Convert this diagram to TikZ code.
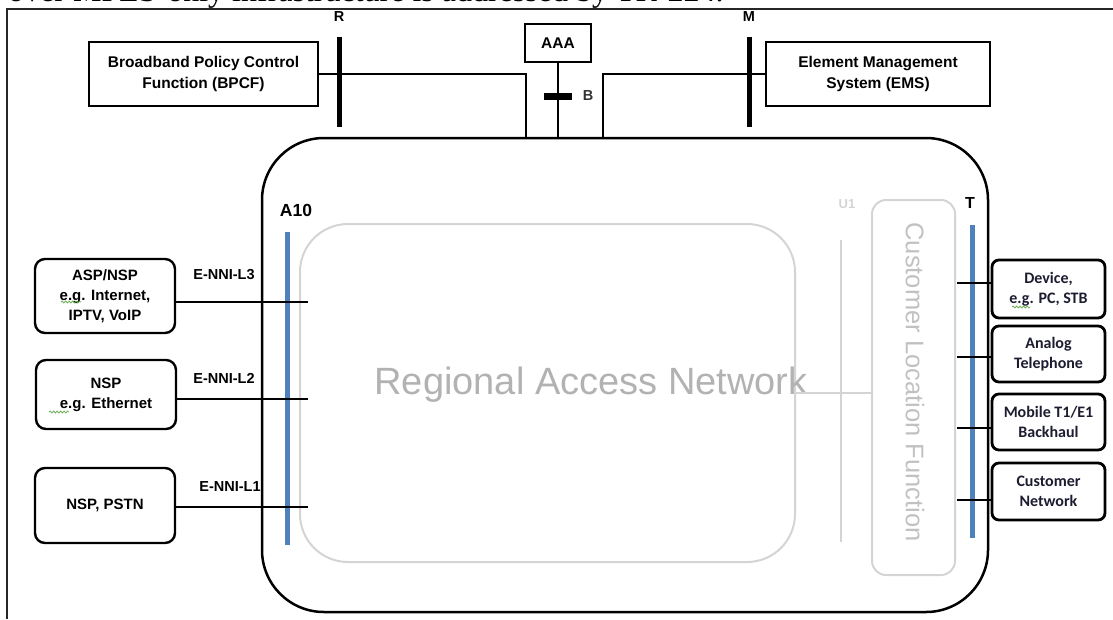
\documentclass[tikz,border=0pt]{standalone}
\usepackage{fontspec}
\setmainfont{Liberation Sans}
\newfontfamily\calibri{Carlito}
\newfontfamily\pagefont{Liberation Serif}
\usepackage{tikz}
\usetikzlibrary{positioning, calc, decorations.pathmorphing}
\definecolor{ifblue}{RGB}{79,129,189}
\definecolor{ghost}{RGB}{212,212,212}
\definecolor{ghosttext}{RGB}{178,178,178}
\definecolor{spell}{RGB}{110,175,90}
\definecolor{ink}{RGB}{28,28,48}

\begin{document}
\begin{tikzpicture}[x=1pt, y=-1pt,
    frame/.style={line width=2pt, draw=black!85},
    sqbox/.style={draw, line width=2.6pt, align=center, font=\fontsize{15.5}{21}\selectfont\bfseries},
    rbox/.style={draw, line width=2.4pt, rounded corners=10pt, minimum width=140pt, align=center, font=\fontsize{15}{20}\selectfont\bfseries},
    cbox/.style={draw, line width=2.8pt, rounded corners=7pt, minimum width=113pt, align=center, text=ink, font=\calibri\fontsize{16}{20}\selectfont\bfseries},
    link/.style={line width=2pt},
    bar/.style={line width=5pt},
    ifbar/.style={line width=5pt, draw=ifblue},
    tag/.style={font=\fontsize{14.5}{16}\selectfont\bfseries},
    squiggle/.style={draw=spell, line width=0.8pt, decorate, decoration={snake, amplitude=1pt, segment length=3.5pt}}]

  \useasboundingbox (0,0) rectangle (1113,619);
  \clip (0,0) rectangle (1113,619);
  % page text and frame
  \node[anchor=base west, inner sep=0pt, font=\pagefont\fontsize{32}{36}\selectfont] (cap) at (8,1.5) {over MPLS-only infrastructure is addressed by TR-224.};
  \draw[frame] (1113,9) -| (7,619);

  % Regional Access Network
  \node[draw, line width=2.5pt, rounded corners=62pt, minimum width=726pt, minimum height=474pt] (NET) at (625,375) {};
  \node[draw=ghost, line width=2pt, rounded corners=48pt, minimum width=495pt, minimum height=338pt] (RAN) at (547.5,393) {};
  \node[text=ghosttext, font=\fontsize{38}{42}\selectfont] (rantxt) at (591,385) {Regional Access Network};

  % Customer Location Function
  \node[draw=ghost, line width=2pt, rounded corners=14pt, minimum width=83pt, minimum height=375pt] (CLF) at (913.5,387.5) {};
  \node[rotate=-90, text=ghosttext!80!white, font=\fontsize{25.5}{28}\selectfont] (clftxt) at (915,382) {Customer Location Function};
  \draw[ghost, line width=1.5pt] (RAN.east) -- (CLF.west |- RAN.east);

  % U1
  \coordinate (u1top) at (841,240);
  \coordinate (u1bot) at (841,542);
  \draw[ghost, line width=2pt] (u1top) -- (u1bot);
  \node[tag, text=ghost, font=\fontsize{13}{15}\selectfont\bfseries] (U1) at (847,204) {U1};

  % A10 and T
  \coordinate (a10top) at (287,232);
  \coordinate (a10bot) at (287,545);
  \draw[ifbar] (a10top) -- (a10bot);
  \node[tag, font=\fontsize{17.5}{20}\selectfont\bfseries] (A10) at (296,210) {A10};
  \coordinate (ttop) at (972,225);
  \coordinate (tbot) at (972,538);
  \draw[ifbar] (ttop) -- (tbot);
  \node[tag, font=\fontsize{16}{18}\selectfont\bfseries] (T) at (970,203) {T};

  % BPCF, AAA, EMS
  \node[sqbox, minimum width=229pt, minimum height=64pt] (BP) at (203.5,74) {Broadband Policy Control\\Function (BPCF)};
  \node[sqbox, minimum width=66pt, minimum height=38pt] (AAA) at (558,43) {AAA};
  \node[sqbox, minimum width=224pt, minimum height=64pt] (EMS) at (878,74) {Element Management\\System (EMS)};

  \coordinate (bpin) at (526,138);
  \coordinate (emsin) at (603,138);
  \draw[link] (BP.east) -| (bpin);
  \draw[link] (EMS.west) -| (emsin);
  \draw[link] (AAA.south) -- (AAA.south |- NET.north);

  % R, B, M
  \coordinate (rtop) at (339,37);
  \coordinate (rbot) at (339,127);
  \draw[bar] (rtop) -- (rbot);
  \node[tag] (R) at (339,17) {R};
  \coordinate (bl) at (544,96);
  \coordinate (br) at (572,96);
  \draw[line width=7pt] (bl) -- (br);
  \node[tag, text=black!80] (B) at (588,96) {B};
  \coordinate (mtop) at (749,37);
  \coordinate (mbot) at (749,127);
  \draw[bar] (mtop) -- (mbot);
  \node[tag] (M) at (749,17) {M};

  % service providers
  \node[rbox, minimum height=74pt] (ASP) at (105,296) {ASP/NSP\\e.g. Internet,\\IPTV, VoIP};
  \node[rbox, minimum height=69pt] (NSP) at (106,394.5) {NSP\\e.g. Ethernet};
  \node[rbox, minimum height=75pt] (PSTN) at (105,505.5) {NSP, PSTN};
  \draw[squiggle] (61,302) -- (81,302);
  \draw[squiggle] (49,412) -- (69,412);

  \coordinate (l3) at (308,302);
  \coordinate (l2) at (308,399);
  \coordinate (l1) at (308,507);
  \draw[link] (l3 -| ASP.east) -- (l3);
  \draw[link] (l2 -| NSP.east) -- (l2);
  \draw[link] (l1 -| PSTN.east) -- (l1);
  \node[tag] (nni3) at (224,275) {E-NNI-L3};
  \node[tag] (nni2) at (224,378) {E-NNI-L2};
  \node[tag] (nni1) at (230,487) {E-NNI-L1};

  % customer side
  \node[cbox, minimum height=58pt] (DEV) at (1048.5,289) {Device,\\e.g. PC, STB};
  \node[cbox, minimum height=56pt] (TEL) at (1048.5,354) {Analog\\Telephone};
  \node[cbox, minimum height=56pt] (MOB) at (1048.5,422) {Mobile T1/E1\\Backhaul};
  \node[cbox, minimum height=57pt] (CUS) at (1048.5,491.5) {Customer\\Network};
  \draw[squiggle] (1012,307) -- (1030,307);

  \coordinate (t1) at (957,283);
  \coordinate (t2) at (957,357);
  \coordinate (t3) at (957,428);
  \coordinate (t4) at (957,500);
  \draw[link] (t1) -- (t1 -| DEV.west);
  \draw[link] (t2) -- (t2 -| TEL.west);
  \draw[link] (t3) -- (t3 -| MOB.west);
  \draw[link] (t4) -- (t4 -| CUS.west);
\end{tikzpicture}
\end{document}
